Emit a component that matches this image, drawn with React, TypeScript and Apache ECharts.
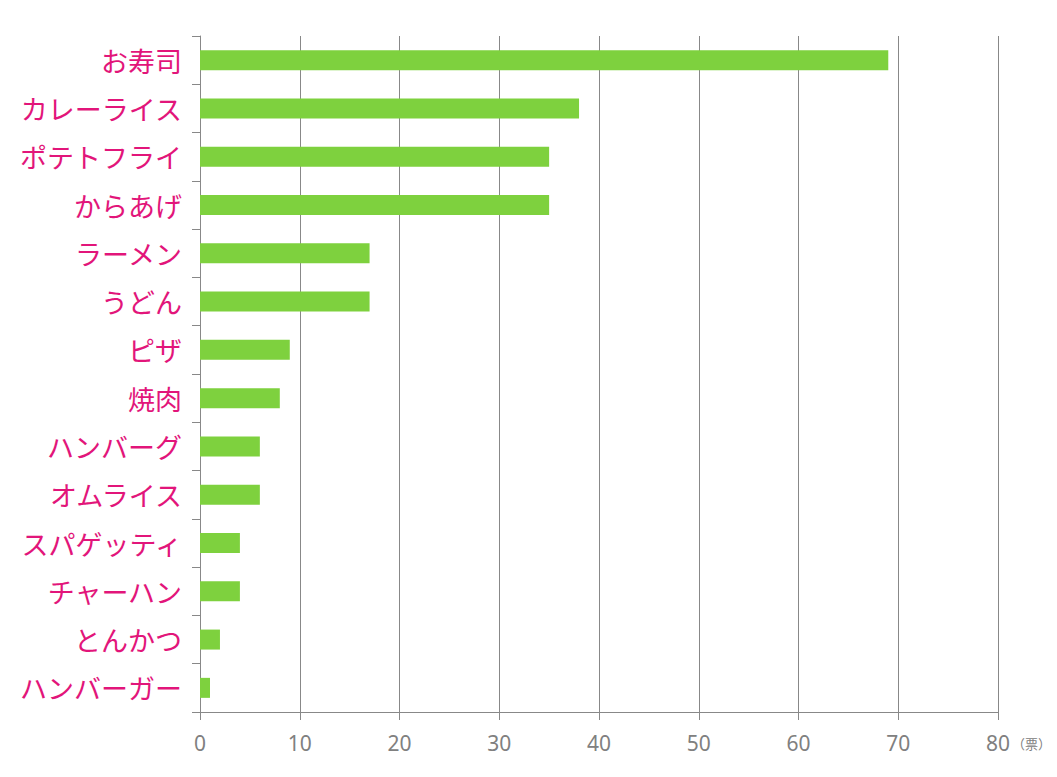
import { useEffect, useRef } from 'react';
import * as echarts from 'echarts';

// 上から順に
const categories = [
  'お寿司', 'カレーライス', 'ポテトフライ', 'からあげ', 'ラーメン', 'うどん', 'ピザ',
  '焼肉', 'ハンバーグ', 'オムライス', 'スパゲッティ', 'チャーハン', 'とんかつ', 'ハンバーガー',
];
const votes = [69, 38, 35, 35, 17, 17, 9, 8, 6, 6, 4, 4, 2, 1];
const unitLabel = '（票）';

const App = () => {
  const el = useRef<HTMLDivElement>(null);

  useEffect(() => {
    if (!el.current) return;
    const chart = echarts.init(el.current, undefined, { renderer: 'svg' });
    chart.setOption({
      animation: false,
      grid: { left: 192, right: 59, top: 28, bottom: 57 },
      xAxis: {
        type: 'value',
        min: 0,
        max: 80,
        interval: 10,
        axisLine: { show: true, lineStyle: { color: '#888888', width: 1 } },
        axisTick: { show: true, length: 8, lineStyle: { color: '#888888' } },
        splitLine: { show: true, lineStyle: { color: '#888888', width: 1 } },
        axisLabel: {
          color: '#808080',
          fontSize: 21,
          fontFamily: 'Noto Sans',
          margin: 20,
        },
      },
      yAxis: {
        type: 'category',
        inverse: true,
        data: categories,
        axisLine: { show: true, lineStyle: { color: '#888888', width: 1 } },
        axisTick: { show: true, length: 8, lineStyle: { color: '#888888' } },
        axisLabel: {
          color: '#e2157a',
          fontSize: 27,
          fontFamily: 'Noto Sans CJK JP',
          margin: 18,
        },
      },
      graphic: [
        {
          type: 'text',
          left: 1004,
          top: 729,
          style: { text: unitLabel, fill: '#808080', fontSize: 13, fontFamily: 'Noto Sans CJK JP' },
        },
      ],
      series: [
        {
          type: 'bar',
          data: votes,
          barWidth: 20,
          itemStyle: { color: '#7ed13e' },
        },
      ],
    });
    return () => chart.dispose();
  }, []);

  return <div ref={el} style={{ width: 1049, height: 761 }} />;
};

export default App;
